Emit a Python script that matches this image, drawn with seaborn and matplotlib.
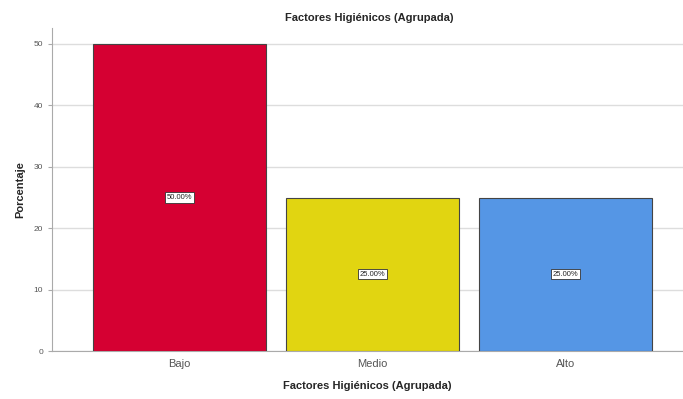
import matplotlib
matplotlib.use('Agg')
import matplotlib.pyplot as plt
import seaborn as sns
import pandas as pd

categorias = ['Bajo', 'Medio', 'Alto']
porcentajes = [50.0, 25.0, 25.0]
etiquetas = ['50.00%', '25.00%', '25.00%']
colores = ['#D50032', '#E1D511', '#5596E5']

df = pd.DataFrame({'cat': categorias, 'pct': porcentajes})

sns.set_style('white')
plt.rcParams['font.family'] = ['Liberation Sans', 'DejaVu Sans']

fig = plt.figure(figsize=(6.83, 3.99), dpi=100)
ax = fig.add_axes([0.076, 0.12, 0.924, 0.81])

sns.barplot(data=df, x='cat', y='pct', hue='cat', palette=colores, legend=False,
            width=0.896, edgecolor='#444444', linewidth=0.8, saturation=1, ax=ax, zorder=3)

for i, (v, lab) in enumerate(zip(porcentajes, etiquetas)):
    ax.text(i, v / 2, lab, ha='center', va='center', fontsize=5.5,
            bbox=dict(boxstyle='square,pad=0.2', fc='white', ec='#333333', lw=0.6), zorder=4)

ax.set_xlim(-0.66, 2.61)
ax.set_ylim(0, 52.6)
ax.set_yticks([0, 10, 20, 30, 40, 50])
ax.yaxis.grid(True, color='#DDDDDD', linewidth=1, zorder=0)
for s in ['top', 'right']:
    ax.spines[s].set_visible(False)
ax.spines['left'].set_color('#AAAAAA')
ax.spines['bottom'].set_color('#AAAAAA')
ax.tick_params(axis='y', labelsize=6, colors='#555555', length=3, color='#AAAAAA', left=True)
ax.tick_params(axis='x', labelsize=8, colors='#555555', length=0, pad=6)
ax.set_xlabel('Factores Higiénicos (Agrupada)', fontsize=8, fontweight='bold', labelpad=8)
ax.set_ylabel('Porcentaje', fontsize=8, fontweight='bold', labelpad=6)
fig.text(0.5 + 0.04, 0.955, 'Factores Higiénicos (Agrupada)', ha='center', va='center',
         fontsize=8, fontweight='bold')

fig.savefig('out.png', dpi=100)
